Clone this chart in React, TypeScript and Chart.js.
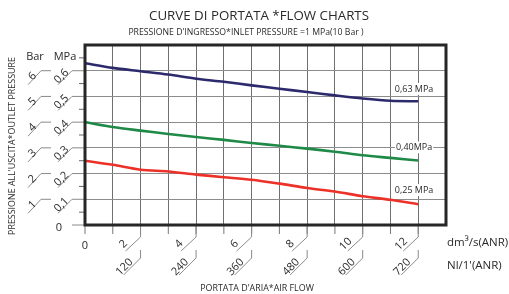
import React, { useEffect, useRef } from 'react';
import { Chart, registerables } from 'chart.js';

Chart.register(...registerables);

// ---- data ----
const flowDm3 = [0, 1, 2, 3, 4, 5, 6, 7, 8, 9, 10, 11, 12];
const p063 = [0.629, 0.611, 0.598, 0.585, 0.569, 0.557, 0.543, 0.530, 0.517, 0.504, 0.492, 0.483, 0.481];
const p040 = [0.400, 0.381, 0.367, 0.354, 0.342, 0.331, 0.319, 0.308, 0.297, 0.285, 0.271, 0.261, 0.251];
const p025 = [0.250, 0.234, 0.215, 0.208, 0.196, 0.186, 0.176, 0.161, 0.144, 0.130, 0.112, 0.098, 0.081];
const seriesNames = ['0,63 MPa', '0,40MPa', '0,25 MPa'];
const seriesColors = ['#2c2a6c', '#1f8a48', '#ec3128'];
const seriesLabelX = [11.85, 11.85, 11.85];
const seriesLabelY = [0.529, 0.302, 0.136];

const mpaTicks = [0.1, 0.2, 0.3, 0.4, 0.5, 0.6];
const mpaTickLabels = ['0,1', '0,2', '0,3', '0,4', '0,5', '0,6'];
const barTickLabels = ['1', '2', '3', '4', '5', '6'];
const dm3Ticks = [2, 4, 6, 8, 10, 12];
const dm3TickLabels = ['2', '4', '6', '8', '10', '12'];
const nlTickLabels = ['120', '240', '360', '480', '600', '720'];

const titleText = 'CURVE DI PORTATA *FLOW CHARTS';
const subtitleText = "PRESSIONE D'INGRESSO*INLET PRESSURE =1 MPa(10 Bar )";
const yTitleText = "PRESSIONE ALL'USCITA*OUTLET PRESSURE";
const xTitleText = "PORTATA D'ARIA*AIR FLOW";
const xUnit1 = 'dm³/s(ANR)';
const xUnit2 = "Nl/1'(ANR)";

const FONT = "'Open Sans', 'DejaVu Sans', sans-serif";
const TEXT = '#2a2a2a';
const LEAD = '#8a8a8a';

function txt(ctx: CanvasRenderingContext2D, s: string, x: number, y: number, size: number, angle = 0, align: CanvasTextAlign = 'center') {
  ctx.save();
  ctx.translate(x, y);
  if (angle) ctx.rotate(angle);
  ctx.font = `${size}px ${FONT}`;
  ctx.fillStyle = TEXT;
  ctx.textAlign = align;
  ctx.textBaseline = 'middle';
  ctx.fillText(s, 0, 0);
  ctx.restore();
}

function line(ctx: CanvasRenderingContext2D, pts: number[][], color = LEAD, w = 1) {
  ctx.save();
  ctx.strokeStyle = color;
  ctx.lineWidth = w;
  ctx.beginPath();
  ctx.moveTo(pts[0][0], pts[0][1]);
  for (let i = 1; i < pts.length; i++) ctx.lineTo(pts[i][0], pts[i][1]);
  ctx.stroke();
  ctx.restore();
}

const decorPlugin = {
  id: 'decor',
  afterDatasetsDraw(chart: any) {
    const ctx: CanvasRenderingContext2D = chart.ctx;
    const xs = chart.scales.x;
    const ys = chart.scales.y;
    // series labels with white background
    seriesNames.forEach((name, i) => {
      const cx = xs.getPixelForValue(seriesLabelX[i]);
      const cy = ys.getPixelForValue(seriesLabelY[i]);
      ctx.save();
      ctx.font = `9px ${FONT}`;
      const w = ctx.measureText(name).width;
      ctx.fillStyle = '#fff';
      ctx.fillRect(cx - w / 2 - 1, cy - 6, w + 2, 12);
      ctx.restore();
      txt(ctx, name, cx, cy, 9);
    });
  },
  afterDraw(chart: any) {
    const ctx: CanvasRenderingContext2D = chart.ctx;
    const ca = chart.chartArea;
    const xs = chart.scales.x;
    const ys = chart.scales.y;
    const L = ca.left;
    const B = ca.bottom;
    const diag = -Math.PI / 4;

    // titles
    txt(ctx, titleText, 259, 16, 13.3);
    txt(ctx, subtitleText, 246, 33, 8.7);
    txt(ctx, yTitleText, 12.5, 146, 8.9, -Math.PI / 2);
    txt(ctx, xTitleText, 257, 288, 8.9);

    // y minor ticks
    for (let v = 0.05; v < 0.7; v += 0.1) {
      const py = ys.getPixelForValue(v);
      line(ctx, [[L - 6, py], [L, py]], '#666');
    }
    // y major leaders + labels
    mpaTicks.forEach((v, i) => {
      const py = ys.getPixelForValue(v);
      line(ctx, [[L, py], [L - 13, py], [L - 27, py + 14]]);
      line(ctx, [[L - 34, py], [L - 44, py], [L - 57, py + 14]]);
      txt(ctx, mpaTickLabels[i], L - 23.5, py + 5.5, 11, diag);
      txt(ctx, barTickLabels[i], L - 52.5, py + 5.5, 11, diag);
    });
    const p0 = ys.getPixelForValue(0);
    line(ctx, [[L - 13, p0], [L, p0]]);
    txt(ctx, '0', L - 26, p0 + 3, 11);
    txt(ctx, 'Bar', 35, 57, 11);
    txt(ctx, 'MPa', 65, 57, 11);

    // x ticks
    for (let v = 0; v <= 12; v++) {
      const px = xs.getPixelForValue(v);
      line(ctx, [[px, B], [px, B + 9]], '#777');
    }
    txt(ctx, '0', xs.getPixelForValue(0), B + 21, 11);
    dm3Ticks.forEach((v, i) => {
      const px = xs.getPixelForValue(v);
      line(ctx, [[px, B], [px, B + 12], [px - 15, B + 26]]);
      line(ctx, [[px, B + 25], [px, B + 33], [px - 17, B + 50]]);
      txt(ctx, dm3TickLabels[i], px - 17, B + 19, 11, diag);
      txt(ctx, nlTickLabels[i], px - 16, B + 42, 11, diag);
    });
    txt(ctx, xUnit1, 447, 243, 11.5, 0, 'left');
    txt(ctx, xUnit2, 447, 266, 11.5, 0, 'left');

    // frame
    ctx.save();
    ctx.strokeStyle = '#262626';
    ctx.lineWidth = 3;
    ctx.strokeRect(ca.left, ca.top, ca.right - ca.left, ca.bottom - ca.top);
    ctx.restore();
  },
};

export default function App() {
  const ref = useRef<HTMLCanvasElement>(null);
  useEffect(() => {
    const mk = (vals: number[]) => flowDm3.map((x, i) => ({ x, y: vals[i] }));
    const chart = new Chart(ref.current!, {
      type: 'line',
      data: {
        datasets: [p063, p040, p025].map((vals, i) => ({
          label: seriesNames[i],
          data: mk(vals),
          borderColor: seriesColors[i],
          backgroundColor: seriesColors[i],
          borderWidth: 2.6,
          pointRadius: 0,
          tension: 0.3,
          fill: false,
        })),
      },
      options: {
        responsive: false,
        animation: false,
        layout: { padding: { left: 85, top: 45, right: 63, bottom: 69 } },
        plugins: { legend: { display: false }, tooltip: { enabled: false } },
        scales: {
          x: {
            type: 'linear',
            min: 0,
            max: 13,
            ticks: { display: false, stepSize: 1 },
            grid: { color: '#707070', lineWidth: 1, drawTicks: false },
            border: { display: false },
          },
          y: {
            type: 'linear',
            min: 0,
            max: 0.7,
            ticks: { display: false, stepSize: 0.1 },
            grid: { color: '#8c8c8c', lineWidth: 1, drawTicks: false },
            border: { display: false },
          },
        },
      },
      plugins: [decorPlugin],
    } as any);
    return () => chart.destroy();
  }, []);
  return (
    <div style={{ position: 'absolute', left: 0, top: 0, width: 509, height: 294, background: '#fff' }}>
      <canvas ref={ref} width={509} height={294} style={{ display: 'block', width: 509, height: 294 }} />
    </div>
  );
}
